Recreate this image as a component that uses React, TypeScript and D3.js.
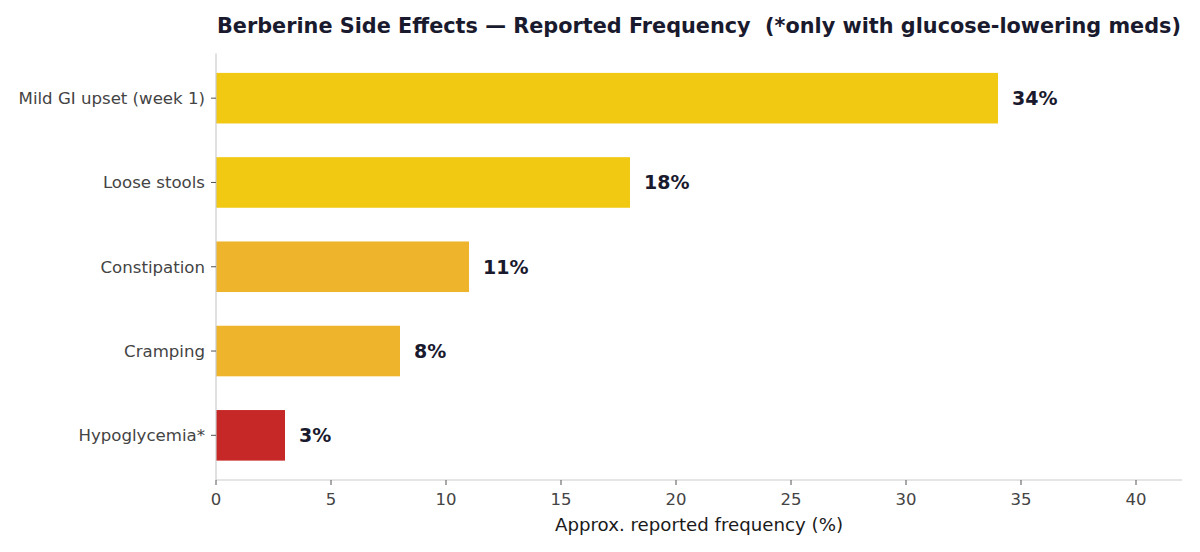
import React, { useEffect, useRef } from 'react';
import * as d3 from 'd3';

const categories = ['Mild GI upset (week 1)', 'Loose stools', 'Constipation', 'Cramping', 'Hypoglycemia*'];
const frequencies = [34, 18, 11, 8, 3];
const barColors = ['#f1c812', '#f1c812', '#eeb42b', '#eeb42b', '#c62828'];
const xTicks = [0, 5, 10, 15, 20, 25, 30, 35, 40];

const WIDTH = 1200;
const HEIGHT = 552;
const FONT = '"DejaVu Sans", sans-serif';

export default function App() {
  const svgRef = useRef<SVGSVGElement>(null);

  useEffect(() => {
    if (!svgRef.current) return;
    const svg = d3.select(svgRef.current);
    svg.selectAll('*').remove();

    const plot = { left: 216, right: 1182, top: 53.5, bottom: 480 };

    const x = d3.scaleLinear().domain([0, 42]).range([plot.left, plot.right]);
    // index-based y, same padding as a horizontal bar plot with 0.6 bar height
    const y = d3.scaleLinear().domain([-0.53, categories.length - 1 + 0.53]).range([plot.top, plot.bottom]);
    const barH = y(0.6) - y(0);

    // bars
    svg.append('g')
      .selectAll('rect')
      .data(frequencies)
      .enter()
      .append('rect')
      .attr('x', x(0))
      .attr('y', (_d, i) => y(i) - barH / 2)
      .attr('width', d => x(d) - x(0))
      .attr('height', barH)
      .attr('fill', (_d, i) => barColors[i]);

    // value labels
    svg.append('g')
      .selectAll('text')
      .data(frequencies)
      .enter()
      .append('text')
      .attr('x', d => x(d) + 14)
      .attr('y', (_d, i) => y(i))
      .attr('dy', '0.36em')
      .attr('fill', '#1a1a2e')
      .style('font-family', FONT)
      .style('font-size', '19px')
      .style('font-weight', 'bold')
      .text(d => `${d}%`);

    // spines
    svg.append('line')
      .attr('x1', plot.left).attr('x2', plot.left)
      .attr('y1', plot.top).attr('y2', plot.bottom)
      .attr('stroke', '#cccccc').attr('stroke-width', 1.2);
    svg.append('line')
      .attr('x1', plot.left).attr('x2', plot.right)
      .attr('y1', plot.bottom).attr('y2', plot.bottom)
      .attr('stroke', '#cccccc').attr('stroke-width', 1.2);

    // x axis ticks
    const xg = svg.append('g');
    xTicks.forEach(t => {
      xg.append('line')
        .attr('x1', x(t)).attr('x2', x(t))
        .attr('y1', plot.bottom).attr('y2', plot.bottom + 5)
        .attr('stroke', '#555555').attr('stroke-width', 1);
      xg.append('text')
        .attr('x', x(t))
        .attr('y', 505)
        .attr('text-anchor', 'middle')
        .attr('fill', '#444444')
        .style('font-family', FONT)
        .style('font-size', '16.5px')
        .text(t);
    });

    // y axis ticks
    const yg = svg.append('g');
    categories.forEach((c, i) => {
      yg.append('line')
        .attr('x1', plot.left - 5).attr('x2', plot.left)
        .attr('y1', y(i)).attr('y2', y(i))
        .attr('stroke', '#555555').attr('stroke-width', 1);
      yg.append('text')
        .attr('x', plot.left - 11)
        .attr('y', y(i))
        .attr('dy', '0.36em')
        .attr('text-anchor', 'end')
        .attr('fill', '#444444')
        .style('font-family', FONT)
        .style('font-size', '16.6px')
        .text(c);
    });

    // x axis title
    svg.append('text')
      .attr('x', (plot.left + plot.right) / 2)
      .attr('y', 531)
      .attr('text-anchor', 'middle')
      .attr('fill', '#1a1a1a')
      .style('font-family', FONT)
      .style('font-size', '18.2px')
      .text('Approx. reported frequency (%)');

    // chart title (keeps the double space before the note)
    svg.append('text')
      .attr('x', (plot.left + plot.right) / 2)
      .attr('y', 33)
      .attr('text-anchor', 'middle')
      .attr('fill', '#1a1a2e')
      .style('font-family', FONT)
      .style('font-size', '20.8px')
      .style('font-weight', 'bold')
      .style('white-space', 'pre')
      .text('Berberine Side Effects \u2014 Reported Frequency  (*only with glucose-lowering meds)');
  }, []);

  return (
    <div style={{ position: 'fixed', left: 0, top: 0, width: WIDTH, height: HEIGHT, background: '#ffffff' }}>
      <svg ref={svgRef} width={WIDTH} height={HEIGHT} style={{ display: 'block' }} />
    </div>
  );
}
